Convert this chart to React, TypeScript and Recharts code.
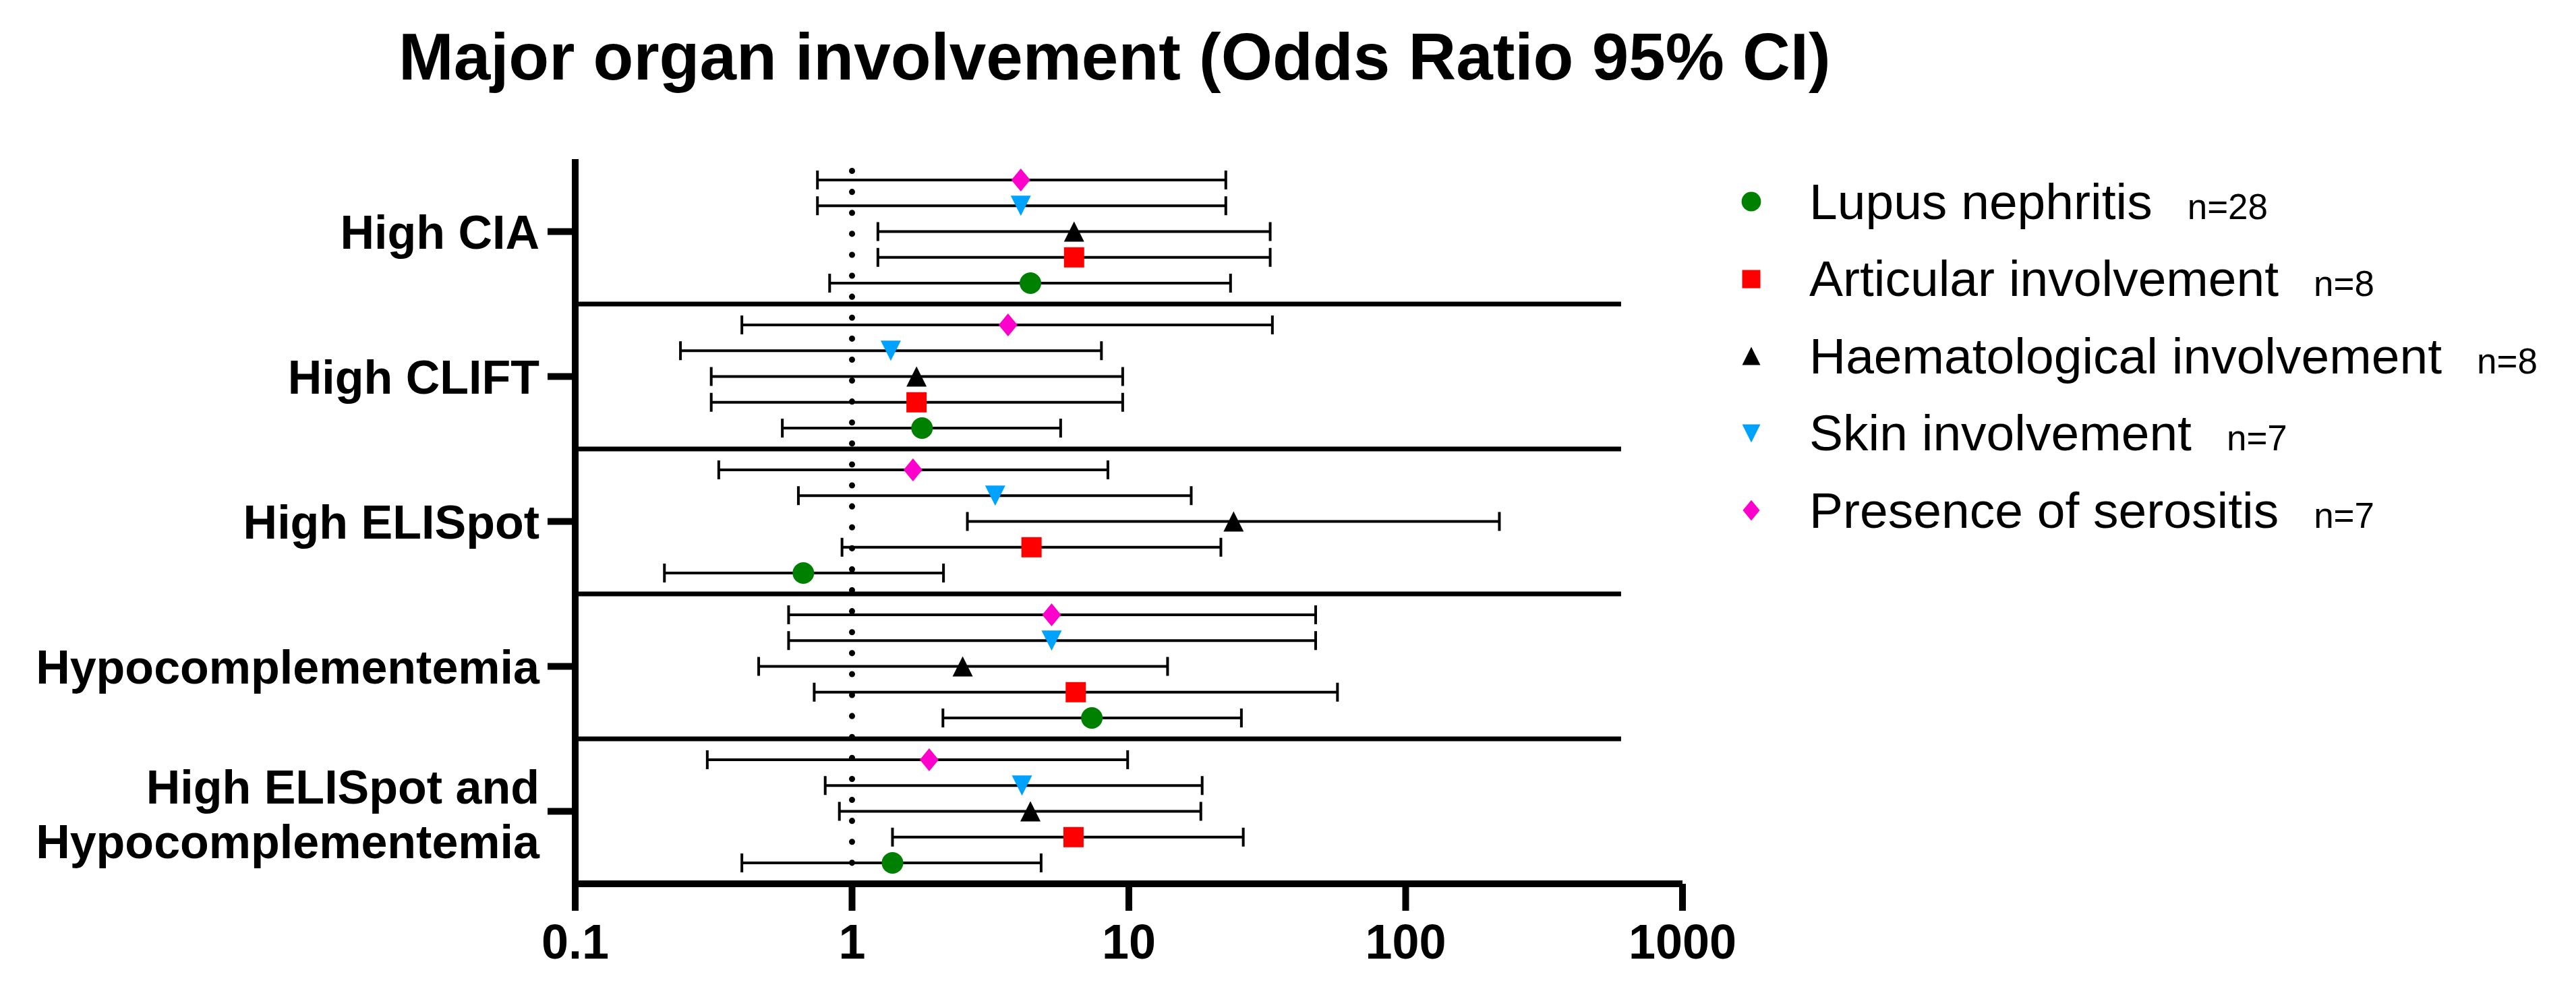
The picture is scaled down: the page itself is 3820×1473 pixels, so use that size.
import React from "react";
import {
  ScatterChart,
  Scatter,
  XAxis,
  YAxis,
  ErrorBar,
  ReferenceLine,
  Legend,
} from "recharts";

const W = 3820;
const H = 1473;
const FONT = '"Liberation Sans", Arial, Helvetica, sans-serif';

// y-axis categories, top to bottom
const GROUPS = [
  "High CIA",
  "High CLIFT",
  "High ELISpot",
  "Hypocomplementemia",
  "High ELISpot and\nHypocomplementemia",
];

const X_TICKS = [0.1, 1, 10, 100, 1000];

// odds ratio, lower and upper 95% CI, one value per group
const serositisOR = [4.07, 3.66, 1.66, 5.26, 1.9];
const serositisLo = [0.75, 0.4, 0.33, 0.59, 0.3];
const serositisHi = [22.4, 33.0, 8.4, 47.3, 9.9];

const skinOR = [4.07, 1.38, 3.29, 5.26, 4.11];
const skinLo = [0.75, 0.24, 0.64, 0.59, 0.8];
const skinHi = [22.4, 7.96, 16.8, 47.3, 18.4];

const haemOR = [6.34, 1.71, 23.9, 2.51, 4.41];
const haemLo = [1.24, 0.31, 2.61, 0.46, 0.9];
const haemHi = [32.4, 9.5, 218, 13.8, 18.2];

const articularOR = [6.34, 1.71, 4.45, 6.43, 6.31];
const articularLo = [1.24, 0.31, 0.92, 0.73, 1.4];
const articularHi = [32.4, 9.5, 21.5, 56.7, 25.9];

const lupusOR = [4.41, 1.79, 0.667, 7.35, 1.4];
const lupusLo = [0.83, 0.56, 0.21, 2.13, 0.4];
const lupusHi = [23.3, 5.67, 2.14, 25.5, 4.82];

// legend order
const LEGEND_NAMES = [
  "Lupus nephritis",
  "Articular involvement",
  "Haematological involvement",
  "Skin involvement",
  "Presence of serositis",
];
const LEGEND_N = ["n=28", "n=8", "n=8", "n=7", "n=7"];

type Kind = "circle" | "square" | "triangle" | "triangleDown" | "diamond";

const STYLE: Record<string, { kind: Kind; color: string }> = {
  "Lupus nephritis": { kind: "circle", color: "#008000" },
  "Articular involvement": { kind: "square", color: "#ff0000" },
  "Haematological involvement": { kind: "triangle", color: "#000000" },
  "Skin involvement": { kind: "triangleDown", color: "#00a2ff" },
  "Presence of serositis": { kind: "diamond", color: "#ff00cc" },
};

// row offset inside a group band (top -> bottom)
const ROW_STEP = 0.178;

function buildRows(or: number[], lo: number[], hi: number[], row: number) {
  return GROUPS.map((g, i) => ({
    group: g,
    y: i + 0.5 + (row - 2) * ROW_STEP,
    or: or[i],
    err: [or[i] - lo[i], hi[i] - or[i]],
  }));
}

const SERIES = [
  { name: "Presence of serositis", data: buildRows(serositisOR, serositisLo, serositisHi, 0) },
  { name: "Skin involvement", data: buildRows(skinOR, skinLo, skinHi, 1) },
  { name: "Haematological involvement", data: buildRows(haemOR, haemLo, haemHi, 2) },
  { name: "Articular involvement", data: buildRows(articularOR, articularLo, articularHi, 3) },
  { name: "Lupus nephritis", data: buildRows(lupusOR, lupusLo, lupusHi, 4) },
];

function Marker({ cx, cy, kind, color, s = 1 }: any) {
  if (cx == null || cy == null) return null;
  if (kind === "circle") return <circle cx={cx} cy={cy} r={16 * s} fill={color} />;
  if (kind === "square")
    return <rect x={cx - 15 * s} y={cy - 15 * s} width={30 * s} height={30 * s} fill={color} />;
  if (kind === "triangle")
    return (
      <polygon
        points={`${cx},${cy - 15 * s} ${cx + 15 * s},${cy + 15 * s} ${cx - 15 * s},${cy + 15 * s}`}
        fill={color}
      />
    );
  if (kind === "triangleDown")
    return (
      <polygon
        points={`${cx - 15 * s},${cy - 15 * s} ${cx + 15 * s},${cy - 15 * s} ${cx},${cy + 15 * s}`}
        fill={color}
      />
    );
  return (
    <polygon
      points={`${cx},${cy - 17 * s} ${cx + 14 * s},${cy} ${cx},${cy + 17 * s} ${cx - 14 * s},${cy}`}
      fill={color}
    />
  );
}

function GroupTick({ x, y, payload }: any) {
  const idx = Math.round(payload.value - 0.5);
  const lines = (GROUPS[idx] || "").split("\n");
  const baselines = lines.length === 1 ? [y + 25] : [y - 12, y + 69];
  return (
    <text textAnchor="end" fontFamily={FONT} fontWeight="bold" fontSize={70} fill="#000">
      {lines.map((l, i) => (
        <tspan key={i} x={x} y={baselines[i]}>
          {l}
        </tspan>
      ))}
    </text>
  );
}

function LegendBox() {
  return (
    <div style={{ fontFamily: FONT, color: "#000" }}>
      {LEGEND_NAMES.map((name, i) => (
        <div key={name} style={{ height: 114.5, display: "flex", alignItems: "center" }}>
          <svg width={40} height={40} style={{ flex: "none" }}>
            <Marker cx={20} cy={20} kind={STYLE[name].kind} color={STYLE[name].color} s={0.9} />
          </svg>
          <span style={{ marginLeft: 66, fontSize: 75, lineHeight: 1, whiteSpace: "nowrap" }}>
            {name}
            <span style={{ fontSize: 53, marginLeft: 52 }}>{LEGEND_N[i]}</span>
          </span>
        </div>
      ))}
    </div>
  );
}

export default function App() {
  return (
    <div
      style={{
        position: "absolute",
        left: 0,
        top: 0,
        width: W,
        height: H,
        background: "#fff",
        fontFamily: FONT,
      }}
    >
      <ScatterChart
        width={W}
        height={H}
        margin={{ top: 236, right: W - 2495, bottom: 0, left: 0 }}
      >
        <XAxis
          type="number"
          dataKey="or"
          scale="log"
          domain={[0.1, 1000]}
          ticks={X_TICKS}
          allowDataOverflow
          height={162}
          axisLine={{ stroke: "#000", strokeWidth: 10 }}
          tickLine={{ stroke: "#000", strokeWidth: 10 }}
          tickSize={40}
          tickMargin={20}
          tick={{ fill: "#000", fontSize: 72, fontWeight: "bold", fontFamily: FONT }}
          tickFormatter={(v: number) => String(v)}
        />
        <YAxis
          type="number"
          dataKey="y"
          domain={[0, 5]}
          reversed
          ticks={[0.5, 1.5, 2.5, 3.5, 4.5]}
          width={853}
          axisLine={{ stroke: "#000", strokeWidth: 10 }}
          tickLine={{ stroke: "#000", strokeWidth: 10 }}
          tickSize={41}
          tickMargin={12}
          tick={<GroupTick />}
        />
        {[1, 2, 3, 4].map((b) => (
          <ReferenceLine
            key={b}
            segment={[
              { x: 0.1, y: b },
              { x: 600, y: b },
            ]}
            stroke="#000"
            strokeWidth={7}
          />
        ))}
        <ReferenceLine
          x={1}
          stroke="#000"
          strokeWidth={9}
          strokeDasharray="0.1 31"
          strokeLinecap="round"
        />
        {SERIES.map((s) => (
          <Scatter
            key={s.name}
            name={s.name}
            data={s.data}
            fill={STYLE[s.name].color}
            isAnimationActive={false}
            shape={(p: any) => (
              <Marker cx={p.cx} cy={p.cy} kind={STYLE[s.name].kind} color={STYLE[s.name].color} />
            )}
          >
            <ErrorBar
              dataKey="err"
              direction="x"
              width={14}
              stroke="#000"
              strokeWidth={4}
              isAnimationActive={false}
            />
          </Scatter>
        ))}
        <Legend
          layout="vertical"
          align="center"
          verticalAlign="middle"
          wrapperStyle={{ left: 2577, top: 242, width: 1240 }}
          content={() => <LegendBox />}
        />
      </ScatterChart>
      <div
        style={{
          position: "absolute",
          left: 591,
          top: 35,
          fontSize: 98,
          lineHeight: "98px",
          fontWeight: "bold",
          whiteSpace: "nowrap",
          color: "#000",
        }}
      >
        Major organ involvement (Odds Ratio 95% CI)
      </div>
    </div>
  );
}
